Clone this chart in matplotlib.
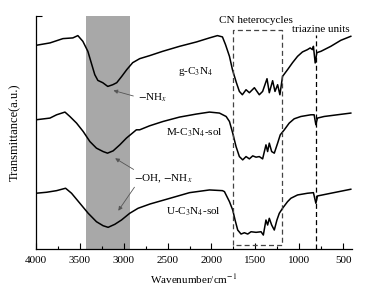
import numpy as np
import matplotlib
matplotlib.use("Agg")
import matplotlib.pyplot as plt
from matplotlib.ticker import MultipleLocator

plt.rcParams['font.family'] = ['Liberation Serif', 'DejaVu Serif']
plt.rcParams['mathtext.fontset'] = 'stix'

# spectra (wavenumber / cm-1, transmittance in a.u.)
g_wn = [4000, 3841, 3693, 3580, 3523, 3466, 3409, 3364, 3330, 3295, 3239, 3182, 3125, 3080,
        3023, 2966, 2898, 2818, 2705, 2557, 2364, 2170, 2023, 1932, 1875, 1840, 1795, 1761,
        1716, 1682, 1648, 1606, 1568, 1511, 1455, 1417, 1367, 1341, 1303, 1276, 1246, 1220,
        1190, 1133, 1076, 1019, 963, 906, 875, 849, 838, 818, 799, 753, 640, 526, 412]
g_t = [203.3, 205.7, 210, 210.7, 213, 207.3, 197.3, 184, 174, 168.3, 166, 162.3, 164, 166,
       172.3, 179, 186, 190, 193, 197.3, 202.3, 206.7, 210.7, 213, 211.7, 204, 192.3, 179,
       166, 157.3, 154, 159, 156, 161, 154, 157.3, 170, 156, 168, 157.3, 164, 154,
       172.3, 179, 186, 192.3, 196.7, 199, 200.7, 199, 202.3, 185.7, 196, 197.3, 202.3, 208.3, 212.3]

m_wn = [4000, 3841, 3765, 3670, 3614, 3538, 3462, 3386, 3311, 3235, 3185, 3121, 3045, 2970,
        2856, 2818, 2705, 2553, 2364, 2174, 2023, 1909, 1833, 1795, 1758, 1720, 1682, 1644,
        1606, 1568, 1530, 1492, 1455, 1417, 1379, 1360, 1341, 1314, 1284, 1246, 1216, 1170,
        1114, 1057, 981, 867, 830, 810, 792, 716, 565, 412]
m_t = [129, 130.7, 134, 136.7, 132.3, 125.7, 117.3, 107.3, 100.7, 97.3, 95.7, 98, 104, 110.7,
       119, 119, 123, 127.3, 131.7, 134.7, 136.7, 135.7, 132.3, 127.3, 115.7, 102.3, 92.3, 89,
       92.3, 90, 93, 91.7, 92.3, 90, 104, 97.3, 105.7, 97.3, 95.7, 105.7, 114, 119,
       125.7, 130, 132.3, 134, 134, 124, 130.7, 132.3, 134, 135.7]

u_wn = [4000, 3879, 3765, 3663, 3595, 3500, 3405, 3311, 3235, 3178, 3102, 3026, 2932, 2837,
        2700, 2500, 2250, 2023, 1875, 1852, 1795, 1758, 1731, 1701, 1663, 1625, 1587, 1549,
        1492, 1435, 1409, 1379, 1360, 1341, 1314, 1284, 1254, 1227, 1190, 1133, 1095, 1019,
        906, 838, 810, 792, 640, 412]
u_t = [55.7, 56.7, 58.3, 60.7, 55.7, 45.7, 35.7, 27.3, 23.3, 21.7, 24.7, 29, 35.7, 40.7,
       45, 50, 56.3, 59, 58.3, 57.3, 47.3, 39, 29, 19, 15, 16.3, 15, 17.3,
       16.7, 17.3, 14, 29, 24, 30.7, 24, 19, 29, 35.7, 40.7, 47.3, 50.7, 54,
       55.7, 56.3, 45.7, 53, 55.7, 59.7]

xticks = [4000, 3500, 3000, 2500, 2000, 1500, 1000, 500]

fig = plt.figure(figsize=(3.81, 2.92), dpi=100)
ax = fig.add_axes([0.0945, 0.147, 0.829, 0.798])

ax.axvspan(3430, 2930, color='#a8a8a8', lw=0, zorder=0)

for wn, t in [(g_wn, g_t), (m_wn, m_t), (u_wn, u_t)]:
    ax.plot(wn, t, color='black', lw=1.1)

# dashed box and line
ax.plot([1753, 1753, 1193, 1193, 1753], [4.3, 218.3, 218.3, 4.3, 4.3],
        ls=(0, (4, 2.5)), color='#444444', lw=0.9)
ax.plot([810, 810], [0, 214], ls=(0, (4, 2.5)), color='black', lw=0.9)

fs = 8
ax.text(1489, 228, 'CN heterocycles', ha='center', va='center', fontsize=fs)
ax.text(750, 219, 'triazine units', ha='center', va='center', fontsize=fs)
ax.text(2386, 177, 'g-C$_3$N$_4$', ha='left', va='center', fontsize=fs)
ax.text(2523, 116, 'M-C$_3$N$_4$-sol', ha='left', va='center', fontsize=fs)
ax.text(2515, 37, 'U-C$_3$N$_4$-sol', ha='left', va='center', fontsize=fs)
ax.text(2841, 151, '$-$NH$_x$', ha='left', va='center', fontsize=fs)
ax.text(2880, 70, '$-$OH, $-$NH$_x$', ha='left', va='center', fontsize=fs)

aprops = dict(arrowstyle='-|>', color='#555555', lw=0.6, mutation_scale=6)
ax.annotate('', xy=(3148, 159), xytext=(2860, 152), arrowprops=aprops)
ax.annotate('', xy=(3125, 92), xytext=(2860, 78), arrowprops=aprops)
ax.annotate('', xy=(3080, 36), xytext=(2860, 64), arrowprops=aprops)

ax.set_xlim(4000, 400)
ax.set_ylim(0, 232.5)
ax.xaxis.set_major_locator(MultipleLocator(500))
ax.xaxis.set_minor_locator(MultipleLocator(250))
ax.set_xticks(xticks)
ax.set_yticks([232.5])
ax.set_yticklabels([])
ax.tick_params(axis='both', which='both', direction='in', labelsize=fs, width=0.8)
ax.tick_params(axis='x', which='major', length=4, pad=5)
ax.tick_params(axis='x', which='minor', length=2.5)
ax.tick_params(axis='y', length=4)
ax.spines['top'].set_visible(False)
ax.spines['right'].set_visible(False)
for s in ['left', 'bottom']:
    ax.spines[s].set_linewidth(0.9)

ax.set_xlabel('Wavenumber/cm$^{-1}$', fontsize=fs, labelpad=5)
ax.set_ylabel('Transmittance(a.u.)', fontsize=9, labelpad=7)

fig.savefig('out.png', dpi=100)
